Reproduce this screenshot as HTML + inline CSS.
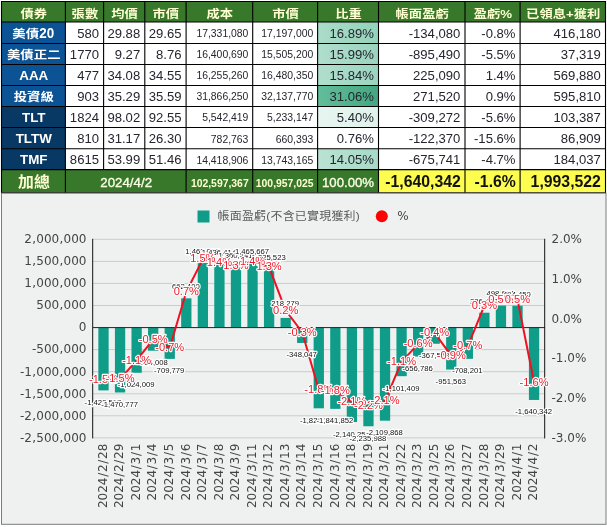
<!DOCTYPE html>
<html lang="zh-Hant"><head><meta charset="utf-8"><title>債券</title>
<style>
html,body{margin:0;padding:0;background:#fff;}
body{width:607px;height:527px;position:relative;overflow:hidden;font-family:"Liberation Sans","Noto Sans CJK TC",sans-serif;}
svg{display:block}
</style></head><body>
<svg width="607" height="527" viewBox="0 0 607 527" style="position:absolute;left:0;top:0">
<defs>
<linearGradient id="g0" x1="0" x2="1" y1="0" y2="0"><stop offset="0" stop-color="#abdcc9"/><stop offset="1" stop-color="#94d2ba"/></linearGradient>
<linearGradient id="g1" x1="0" x2="1" y1="0" y2="0"><stop offset="0" stop-color="#b0decc"/><stop offset="1" stop-color="#9ad4be"/></linearGradient>
<linearGradient id="g2" x1="0" x2="1" y1="0" y2="0"><stop offset="0" stop-color="#b1decd"/><stop offset="1" stop-color="#9bd5bf"/></linearGradient>
<linearGradient id="g3" x1="0" x2="1" y1="0" y2="0"><stop offset="0" stop-color="#62bd9a"/><stop offset="1" stop-color="#44a782"/></linearGradient>
<linearGradient id="g4" x1="0" x2="1" y1="0" y2="0"><stop offset="0" stop-color="#e7f5f0"/><stop offset="1" stop-color="#e0f2eb"/></linearGradient>
<linearGradient id="g5" x1="0" x2="1" y1="0" y2="0"><stop offset="0" stop-color="#ffffff"/><stop offset="1" stop-color="#ffffff"/></linearGradient>
<linearGradient id="g6" x1="0" x2="1" y1="0" y2="0"><stop offset="0" stop-color="#bae2d3"/><stop offset="1" stop-color="#a7dac7"/></linearGradient>
</defs>
<rect x="0" y="0" width="607" height="527" fill="#ffffff"/>
<rect x="1.50" y="1.50" width="604.00" height="20.50" fill="#37782a"/>
<rect x="1.50" y="22.00" width="63.90" height="84.50" fill="#0b5394"/>
<rect x="1.50" y="106.50" width="63.90" height="63.10" fill="#083864"/>
<rect x="1.50" y="169.60" width="377.00" height="23.10" fill="#37782a"/>
<rect x="378.50" y="169.60" width="227.00" height="23.10" fill="#fdfd50"/>
<rect x="317.60" y="22.00" width="60.90" height="21.50" fill="url(#g0)"/>
<rect x="317.60" y="43.50" width="60.90" height="21.00" fill="url(#g1)"/>
<rect x="317.60" y="64.50" width="60.90" height="21.00" fill="url(#g2)"/>
<rect x="317.60" y="85.50" width="60.90" height="21.00" fill="url(#g3)"/>
<rect x="317.60" y="106.50" width="60.90" height="21.00" fill="url(#g4)"/>
<rect x="317.60" y="127.50" width="60.90" height="21.30" fill="url(#g5)"/>
<rect x="317.60" y="148.80" width="60.90" height="20.80" fill="url(#g6)"/>
<line x1="1.50" x2="1.50" y1="1.00" y2="193.20" stroke="#000" stroke-width="1.1"/>
<line x1="65.40" x2="65.40" y1="1.00" y2="193.20" stroke="#000" stroke-width="1.1"/>
<line x1="103.60" x2="103.60" y1="1.00" y2="169.60" stroke="#000" stroke-width="1.1"/>
<line x1="144.80" x2="144.80" y1="1.00" y2="169.60" stroke="#000" stroke-width="1.1"/>
<line x1="186.10" x2="186.10" y1="1.00" y2="193.20" stroke="#000" stroke-width="1.1"/>
<line x1="252.70" x2="252.70" y1="1.00" y2="193.20" stroke="#000" stroke-width="1.1"/>
<line x1="317.60" x2="317.60" y1="1.00" y2="193.20" stroke="#000" stroke-width="1.1"/>
<line x1="378.50" x2="378.50" y1="1.00" y2="193.20" stroke="#000" stroke-width="1.1"/>
<line x1="465.00" x2="465.00" y1="1.00" y2="193.20" stroke="#000" stroke-width="1.1"/>
<line x1="520.10" x2="520.10" y1="1.00" y2="193.20" stroke="#000" stroke-width="1.1"/>
<line x1="605.50" x2="605.50" y1="1.00" y2="193.20" stroke="#000" stroke-width="1.1"/>
<line x1="1.00" x2="606.00" y1="1.50" y2="1.50" stroke="#000" stroke-width="1.1"/>
<line x1="1.00" x2="606.00" y1="22.00" y2="22.00" stroke="#000" stroke-width="1.1"/>
<line x1="1.00" x2="606.00" y1="43.50" y2="43.50" stroke="#000" stroke-width="1.1"/>
<line x1="1.00" x2="606.00" y1="64.50" y2="64.50" stroke="#000" stroke-width="1.1"/>
<line x1="1.00" x2="606.00" y1="85.50" y2="85.50" stroke="#000" stroke-width="1.1"/>
<line x1="1.00" x2="606.00" y1="106.50" y2="106.50" stroke="#000" stroke-width="1.1"/>
<line x1="1.00" x2="606.00" y1="127.50" y2="127.50" stroke="#000" stroke-width="1.1"/>
<line x1="1.00" x2="606.00" y1="148.80" y2="148.80" stroke="#000" stroke-width="1.1"/>
<line x1="1.00" x2="606.00" y1="169.60" y2="169.60" stroke="#000" stroke-width="1.1"/>
<line x1="1.00" x2="606.00" y1="192.70" y2="192.70" stroke="#000" stroke-width="1.1"/>
<text transform="translate(33.85 17.60) scale(1 0.88)" text-anchor="middle" font-family="'Liberation Sans','Noto Sans CJK TC',sans-serif" font-size="13.3" fill="#ffffd2" font-weight="bold">債券</text>
<text transform="translate(84.90 17.60) scale(1 0.88)" text-anchor="middle" font-family="'Liberation Sans','Noto Sans CJK TC',sans-serif" font-size="13.3" fill="#ffffd2" font-weight="bold">張數</text>
<text transform="translate(124.60 17.60) scale(1 0.88)" text-anchor="middle" font-family="'Liberation Sans','Noto Sans CJK TC',sans-serif" font-size="13.3" fill="#ffffd2" font-weight="bold">均價</text>
<text transform="translate(165.85 17.60) scale(1 0.88)" text-anchor="middle" font-family="'Liberation Sans','Noto Sans CJK TC',sans-serif" font-size="13.3" fill="#ffffd2" font-weight="bold">市價</text>
<text transform="translate(219.80 17.60) scale(1 0.88)" text-anchor="middle" font-family="'Liberation Sans','Noto Sans CJK TC',sans-serif" font-size="13.3" fill="#ffffd2" font-weight="bold">成本</text>
<text transform="translate(285.55 17.60) scale(1 0.88)" text-anchor="middle" font-family="'Liberation Sans','Noto Sans CJK TC',sans-serif" font-size="13.3" fill="#ffffd2" font-weight="bold">市價</text>
<text transform="translate(348.45 17.60) scale(1 0.88)" text-anchor="middle" font-family="'Liberation Sans','Noto Sans CJK TC',sans-serif" font-size="13.3" fill="#ffffd2" font-weight="bold">比重</text>
<text transform="translate(422.15 17.60) scale(1 0.88)" text-anchor="middle" font-family="'Liberation Sans','Noto Sans CJK TC',sans-serif" font-size="13.3" fill="#ffffd2" font-weight="bold">帳面盈虧</text>
<text transform="translate(492.95 17.60) scale(1 0.88)" text-anchor="middle" font-family="'Liberation Sans','Noto Sans CJK TC',sans-serif" font-size="13.3" fill="#ffffd2" font-weight="bold">盈虧%</text>
<text transform="translate(563.20 17.60) scale(1 0.88)" text-anchor="middle" font-family="'Liberation Sans','Noto Sans CJK TC',sans-serif" font-size="13.3" fill="#ffffd2" font-weight="bold">已領息+獲利</text>
<text transform="translate(39.05 38.10) scale(1 0.86)" text-anchor="end" font-family="'Liberation Sans','Noto Sans CJK TC',sans-serif" font-size="13.4" fill="#ffffff" font-weight="bold">美債</text>
<text transform="translate(39.25 38.20) scale(0.93 1)" text-anchor="start" font-family="'Liberation Sans','Noto Sans CJK TC',sans-serif" font-size="14.4" fill="#ffffff" font-weight="bold">20</text>
<text x="99.00" y="37.80" text-anchor="end" font-family="'Liberation Sans','Noto Sans CJK TC',sans-serif" font-size="13.1" fill="#25252f" font-weight="normal">580</text>
<text x="140.20" y="37.80" text-anchor="end" font-family="'Liberation Sans','Noto Sans CJK TC',sans-serif" font-size="13.1" fill="#25252f" font-weight="normal">29.88</text>
<text x="181.50" y="37.80" text-anchor="end" font-family="'Liberation Sans','Noto Sans CJK TC',sans-serif" font-size="13.1" fill="#25252f" font-weight="normal">29.65</text>
<text x="373.90" y="37.80" text-anchor="end" font-family="'Liberation Sans','Noto Sans CJK TC',sans-serif" font-size="13.1" fill="#25252f" font-weight="normal">16.89%</text>
<text x="460.40" y="37.80" text-anchor="end" font-family="'Liberation Sans','Noto Sans CJK TC',sans-serif" font-size="13.1" fill="#25252f" font-weight="normal">-134,080</text>
<text x="515.50" y="37.80" text-anchor="end" font-family="'Liberation Sans','Noto Sans CJK TC',sans-serif" font-size="13.1" fill="#25252f" font-weight="normal">-0.8%</text>
<text x="600.90" y="37.80" text-anchor="end" font-family="'Liberation Sans','Noto Sans CJK TC',sans-serif" font-size="13.1" fill="#25252f" font-weight="normal">416,180</text>
<text x="248.40" y="37.40" text-anchor="end" font-family="'Liberation Sans','Noto Sans CJK TC',sans-serif" font-size="10.4" fill="#25252f" font-weight="normal">17,331,080</text>
<text x="313.30" y="37.40" text-anchor="end" font-family="'Liberation Sans','Noto Sans CJK TC',sans-serif" font-size="10.4" fill="#25252f" font-weight="normal">17,197,000</text>
<text transform="translate(33.75 59.10) scale(1 0.86)" text-anchor="middle" font-family="'Liberation Sans','Noto Sans CJK TC',sans-serif" font-size="13.4" fill="#ffffff" font-weight="bold">美債正二</text>
<text x="99.00" y="58.80" text-anchor="end" font-family="'Liberation Sans','Noto Sans CJK TC',sans-serif" font-size="13.1" fill="#25252f" font-weight="normal">1770</text>
<text x="140.20" y="58.80" text-anchor="end" font-family="'Liberation Sans','Noto Sans CJK TC',sans-serif" font-size="13.1" fill="#25252f" font-weight="normal">9.27</text>
<text x="181.50" y="58.80" text-anchor="end" font-family="'Liberation Sans','Noto Sans CJK TC',sans-serif" font-size="13.1" fill="#25252f" font-weight="normal">8.76</text>
<text x="373.90" y="58.80" text-anchor="end" font-family="'Liberation Sans','Noto Sans CJK TC',sans-serif" font-size="13.1" fill="#25252f" font-weight="normal">15.99%</text>
<text x="460.40" y="58.80" text-anchor="end" font-family="'Liberation Sans','Noto Sans CJK TC',sans-serif" font-size="13.1" fill="#25252f" font-weight="normal">-895,490</text>
<text x="515.50" y="58.80" text-anchor="end" font-family="'Liberation Sans','Noto Sans CJK TC',sans-serif" font-size="13.1" fill="#25252f" font-weight="normal">-5.5%</text>
<text x="600.90" y="58.80" text-anchor="end" font-family="'Liberation Sans','Noto Sans CJK TC',sans-serif" font-size="13.1" fill="#25252f" font-weight="normal">37,319</text>
<text x="248.40" y="58.40" text-anchor="end" font-family="'Liberation Sans','Noto Sans CJK TC',sans-serif" font-size="10.4" fill="#25252f" font-weight="normal">16,400,690</text>
<text x="313.30" y="58.40" text-anchor="end" font-family="'Liberation Sans','Noto Sans CJK TC',sans-serif" font-size="10.4" fill="#25252f" font-weight="normal">15,505,200</text>
<text x="33.75" y="79.60" text-anchor="middle" font-family="'Liberation Sans','Noto Sans CJK TC',sans-serif" font-size="13.4" fill="#ffffff" font-weight="bold">AAA</text>
<text x="99.00" y="79.80" text-anchor="end" font-family="'Liberation Sans','Noto Sans CJK TC',sans-serif" font-size="13.1" fill="#25252f" font-weight="normal">477</text>
<text x="140.20" y="79.80" text-anchor="end" font-family="'Liberation Sans','Noto Sans CJK TC',sans-serif" font-size="13.1" fill="#25252f" font-weight="normal">34.08</text>
<text x="181.50" y="79.80" text-anchor="end" font-family="'Liberation Sans','Noto Sans CJK TC',sans-serif" font-size="13.1" fill="#25252f" font-weight="normal">34.55</text>
<text x="373.90" y="79.80" text-anchor="end" font-family="'Liberation Sans','Noto Sans CJK TC',sans-serif" font-size="13.1" fill="#25252f" font-weight="normal">15.84%</text>
<text x="460.40" y="79.80" text-anchor="end" font-family="'Liberation Sans','Noto Sans CJK TC',sans-serif" font-size="13.1" fill="#25252f" font-weight="normal">225,090</text>
<text x="515.50" y="79.80" text-anchor="end" font-family="'Liberation Sans','Noto Sans CJK TC',sans-serif" font-size="13.1" fill="#25252f" font-weight="normal">1.4%</text>
<text x="600.90" y="79.80" text-anchor="end" font-family="'Liberation Sans','Noto Sans CJK TC',sans-serif" font-size="13.1" fill="#25252f" font-weight="normal">569,880</text>
<text x="248.40" y="79.40" text-anchor="end" font-family="'Liberation Sans','Noto Sans CJK TC',sans-serif" font-size="10.4" fill="#25252f" font-weight="normal">16,255,260</text>
<text x="313.30" y="79.40" text-anchor="end" font-family="'Liberation Sans','Noto Sans CJK TC',sans-serif" font-size="10.4" fill="#25252f" font-weight="normal">16,480,350</text>
<text transform="translate(33.75 101.10) scale(1 0.86)" text-anchor="middle" font-family="'Liberation Sans','Noto Sans CJK TC',sans-serif" font-size="13.4" fill="#ffffff" font-weight="bold">投資級</text>
<text x="99.00" y="100.80" text-anchor="end" font-family="'Liberation Sans','Noto Sans CJK TC',sans-serif" font-size="13.1" fill="#25252f" font-weight="normal">903</text>
<text x="140.20" y="100.80" text-anchor="end" font-family="'Liberation Sans','Noto Sans CJK TC',sans-serif" font-size="13.1" fill="#25252f" font-weight="normal">35.29</text>
<text x="181.50" y="100.80" text-anchor="end" font-family="'Liberation Sans','Noto Sans CJK TC',sans-serif" font-size="13.1" fill="#25252f" font-weight="normal">35.59</text>
<text x="373.90" y="100.80" text-anchor="end" font-family="'Liberation Sans','Noto Sans CJK TC',sans-serif" font-size="13.1" fill="#25252f" font-weight="normal">31.06%</text>
<text x="460.40" y="100.80" text-anchor="end" font-family="'Liberation Sans','Noto Sans CJK TC',sans-serif" font-size="13.1" fill="#25252f" font-weight="normal">271,520</text>
<text x="515.50" y="100.80" text-anchor="end" font-family="'Liberation Sans','Noto Sans CJK TC',sans-serif" font-size="13.1" fill="#25252f" font-weight="normal">0.9%</text>
<text x="600.90" y="100.80" text-anchor="end" font-family="'Liberation Sans','Noto Sans CJK TC',sans-serif" font-size="13.1" fill="#25252f" font-weight="normal">595,810</text>
<text x="248.40" y="100.40" text-anchor="end" font-family="'Liberation Sans','Noto Sans CJK TC',sans-serif" font-size="10.4" fill="#25252f" font-weight="normal">31,866,250</text>
<text x="313.30" y="100.40" text-anchor="end" font-family="'Liberation Sans','Noto Sans CJK TC',sans-serif" font-size="10.4" fill="#25252f" font-weight="normal">32,137,770</text>
<text x="33.75" y="121.60" text-anchor="middle" font-family="'Liberation Sans','Noto Sans CJK TC',sans-serif" font-size="13.4" fill="#ffffff" font-weight="bold">TLT</text>
<text x="99.00" y="121.80" text-anchor="end" font-family="'Liberation Sans','Noto Sans CJK TC',sans-serif" font-size="13.1" fill="#25252f" font-weight="normal">1824</text>
<text x="140.20" y="121.80" text-anchor="end" font-family="'Liberation Sans','Noto Sans CJK TC',sans-serif" font-size="13.1" fill="#25252f" font-weight="normal">98.02</text>
<text x="181.50" y="121.80" text-anchor="end" font-family="'Liberation Sans','Noto Sans CJK TC',sans-serif" font-size="13.1" fill="#25252f" font-weight="normal">92.55</text>
<text x="373.90" y="121.80" text-anchor="end" font-family="'Liberation Sans','Noto Sans CJK TC',sans-serif" font-size="13.1" fill="#25252f" font-weight="normal">5.40%</text>
<text x="460.40" y="121.80" text-anchor="end" font-family="'Liberation Sans','Noto Sans CJK TC',sans-serif" font-size="13.1" fill="#25252f" font-weight="normal">-309,272</text>
<text x="515.50" y="121.80" text-anchor="end" font-family="'Liberation Sans','Noto Sans CJK TC',sans-serif" font-size="13.1" fill="#25252f" font-weight="normal">-5.6%</text>
<text x="600.90" y="121.80" text-anchor="end" font-family="'Liberation Sans','Noto Sans CJK TC',sans-serif" font-size="13.1" fill="#25252f" font-weight="normal">103,387</text>
<text x="248.40" y="121.40" text-anchor="end" font-family="'Liberation Sans','Noto Sans CJK TC',sans-serif" font-size="10.4" fill="#25252f" font-weight="normal">5,542,419</text>
<text x="313.30" y="121.40" text-anchor="end" font-family="'Liberation Sans','Noto Sans CJK TC',sans-serif" font-size="10.4" fill="#25252f" font-weight="normal">5,233,147</text>
<text x="33.75" y="142.90" text-anchor="middle" font-family="'Liberation Sans','Noto Sans CJK TC',sans-serif" font-size="13.4" fill="#ffffff" font-weight="bold">TLTW</text>
<text x="99.00" y="143.10" text-anchor="end" font-family="'Liberation Sans','Noto Sans CJK TC',sans-serif" font-size="13.1" fill="#25252f" font-weight="normal">810</text>
<text x="140.20" y="143.10" text-anchor="end" font-family="'Liberation Sans','Noto Sans CJK TC',sans-serif" font-size="13.1" fill="#25252f" font-weight="normal">31.17</text>
<text x="181.50" y="143.10" text-anchor="end" font-family="'Liberation Sans','Noto Sans CJK TC',sans-serif" font-size="13.1" fill="#25252f" font-weight="normal">26.30</text>
<text x="373.90" y="143.10" text-anchor="end" font-family="'Liberation Sans','Noto Sans CJK TC',sans-serif" font-size="13.1" fill="#25252f" font-weight="normal">0.76%</text>
<text x="460.40" y="143.10" text-anchor="end" font-family="'Liberation Sans','Noto Sans CJK TC',sans-serif" font-size="13.1" fill="#25252f" font-weight="normal">-122,370</text>
<text x="515.50" y="143.10" text-anchor="end" font-family="'Liberation Sans','Noto Sans CJK TC',sans-serif" font-size="13.1" fill="#25252f" font-weight="normal">-15.6%</text>
<text x="600.90" y="143.10" text-anchor="end" font-family="'Liberation Sans','Noto Sans CJK TC',sans-serif" font-size="13.1" fill="#25252f" font-weight="normal">86,909</text>
<text x="248.40" y="142.70" text-anchor="end" font-family="'Liberation Sans','Noto Sans CJK TC',sans-serif" font-size="10.4" fill="#25252f" font-weight="normal">782,763</text>
<text x="313.30" y="142.70" text-anchor="end" font-family="'Liberation Sans','Noto Sans CJK TC',sans-serif" font-size="10.4" fill="#25252f" font-weight="normal">660,393</text>
<text x="33.75" y="163.70" text-anchor="middle" font-family="'Liberation Sans','Noto Sans CJK TC',sans-serif" font-size="13.4" fill="#ffffff" font-weight="bold">TMF</text>
<text x="99.00" y="163.90" text-anchor="end" font-family="'Liberation Sans','Noto Sans CJK TC',sans-serif" font-size="13.1" fill="#25252f" font-weight="normal">8615</text>
<text x="140.20" y="163.90" text-anchor="end" font-family="'Liberation Sans','Noto Sans CJK TC',sans-serif" font-size="13.1" fill="#25252f" font-weight="normal">53.99</text>
<text x="181.50" y="163.90" text-anchor="end" font-family="'Liberation Sans','Noto Sans CJK TC',sans-serif" font-size="13.1" fill="#25252f" font-weight="normal">51.46</text>
<text x="373.90" y="163.90" text-anchor="end" font-family="'Liberation Sans','Noto Sans CJK TC',sans-serif" font-size="13.1" fill="#25252f" font-weight="normal">14.05%</text>
<text x="460.40" y="163.90" text-anchor="end" font-family="'Liberation Sans','Noto Sans CJK TC',sans-serif" font-size="13.1" fill="#25252f" font-weight="normal">-675,741</text>
<text x="515.50" y="163.90" text-anchor="end" font-family="'Liberation Sans','Noto Sans CJK TC',sans-serif" font-size="13.1" fill="#25252f" font-weight="normal">-4.7%</text>
<text x="600.90" y="163.90" text-anchor="end" font-family="'Liberation Sans','Noto Sans CJK TC',sans-serif" font-size="13.1" fill="#25252f" font-weight="normal">184,037</text>
<text x="248.40" y="163.50" text-anchor="end" font-family="'Liberation Sans','Noto Sans CJK TC',sans-serif" font-size="10.4" fill="#25252f" font-weight="normal">14,418,906</text>
<text x="313.30" y="163.50" text-anchor="end" font-family="'Liberation Sans','Noto Sans CJK TC',sans-serif" font-size="10.4" fill="#25252f" font-weight="normal">13,743,165</text>
<text transform="translate(33.95 186.70) scale(1 0.9)" text-anchor="middle" font-family="'Liberation Sans','Noto Sans CJK TC',sans-serif" font-size="15.9" fill="#ffffd2" font-weight="bold">加總</text>
<text x="126.15" y="187.30" text-anchor="middle" font-family="'Liberation Sans','Noto Sans CJK TC',sans-serif" font-size="13.3" fill="#fcffe6" font-weight="normal" stroke="#fcffe6" stroke-width="0.35">2024/4/2</text>
<text x="248.70" y="186.70" text-anchor="end" font-family="'Liberation Sans','Noto Sans CJK TC',sans-serif" font-size="10.4" fill="#ffffd2" font-weight="bold">102,597,367</text>
<text x="313.60" y="186.70" text-anchor="end" font-family="'Liberation Sans','Noto Sans CJK TC',sans-serif" font-size="10.4" fill="#ffffd2" font-weight="bold">100,957,025</text>
<text x="374.10" y="187.30" text-anchor="end" font-family="'Liberation Sans','Noto Sans CJK TC',sans-serif" font-size="13.2" fill="#fcffe6" font-weight="normal" stroke="#fcffe6" stroke-width="0.35">100.00%</text>
<text x="460.80" y="187.30" text-anchor="end" font-family="'Liberation Sans','Noto Sans CJK TC',sans-serif" font-size="15.8" fill="#111" font-weight="bold">-1,640,342</text>
<text x="515.90" y="187.30" text-anchor="end" font-family="'Liberation Sans','Noto Sans CJK TC',sans-serif" font-size="15.8" fill="#111" font-weight="bold">-1.6%</text>
<text x="600.90" y="187.30" text-anchor="end" font-family="'Liberation Sans','Noto Sans CJK TC',sans-serif" font-size="15.8" fill="#111" font-weight="bold">1,993,522</text>
<rect x="1.5" y="193.2" width="604.5" height="331.1" fill="#eff1f1"/>
<rect x="1.5" y="193.2" width="604.5" height="331.1" fill="none" stroke="#7c7c7c" stroke-width="1"/>
<line x1="93" x2="545" y1="239.3" y2="239.3" stroke="#cbcbcb" stroke-width="1"/>
<line x1="93" x2="545" y1="261.4" y2="261.4" stroke="#cbcbcb" stroke-width="1"/>
<line x1="93" x2="545" y1="283.4" y2="283.4" stroke="#cbcbcb" stroke-width="1"/>
<line x1="93" x2="545" y1="305.5" y2="305.5" stroke="#cbcbcb" stroke-width="1"/>
<line x1="93" x2="545" y1="349.6" y2="349.6" stroke="#cbcbcb" stroke-width="1"/>
<line x1="93" x2="545" y1="371.7" y2="371.7" stroke="#cbcbcb" stroke-width="1"/>
<line x1="93" x2="545" y1="393.8" y2="393.8" stroke="#cbcbcb" stroke-width="1"/>
<line x1="93" x2="545" y1="415.8" y2="415.8" stroke="#cbcbcb" stroke-width="1"/>
<line x1="93" x2="545" y1="437.9" y2="437.9" stroke="#cbcbcb" stroke-width="1"/>
<rect x="98.35" y="327.57" width="10.30" height="62.82" fill="#0f9d8a"/>
<rect x="114.91" y="327.57" width="10.30" height="64.91" fill="#0f9d8a"/>
<rect x="131.47" y="327.57" width="10.30" height="45.19" fill="#0f9d8a"/>
<rect x="148.03" y="327.57" width="10.30" height="23.13" fill="#0f9d8a"/>
<rect x="164.59" y="327.57" width="10.30" height="31.32" fill="#0f9d8a"/>
<rect x="181.15" y="298.33" width="10.30" height="29.23" fill="#0f9d8a"/>
<rect x="197.71" y="263.00" width="10.30" height="64.57" fill="#0f9d8a"/>
<rect x="214.27" y="264.17" width="10.30" height="63.39" fill="#0f9d8a"/>
<rect x="230.83" y="267.53" width="10.30" height="60.04" fill="#0f9d8a"/>
<rect x="247.39" y="262.88" width="10.30" height="64.68" fill="#0f9d8a"/>
<rect x="263.95" y="269.07" width="10.30" height="58.50" fill="#0f9d8a"/>
<rect x="280.51" y="317.93" width="10.30" height="9.63" fill="#0f9d8a"/>
<rect x="297.07" y="327.57" width="10.30" height="15.36" fill="#0f9d8a"/>
<rect x="313.63" y="327.57" width="10.30" height="80.73" fill="#0f9d8a"/>
<rect x="330.19" y="327.57" width="10.30" height="81.29" fill="#0f9d8a"/>
<rect x="346.75" y="327.57" width="10.30" height="94.46" fill="#0f9d8a"/>
<rect x="363.31" y="327.57" width="10.30" height="98.68" fill="#0f9d8a"/>
<rect x="379.87" y="327.57" width="10.30" height="93.12" fill="#0f9d8a"/>
<rect x="396.43" y="327.57" width="10.30" height="48.61" fill="#0f9d8a"/>
<rect x="412.99" y="327.57" width="10.30" height="28.99" fill="#0f9d8a"/>
<rect x="429.55" y="327.57" width="10.30" height="16.22" fill="#0f9d8a"/>
<rect x="446.11" y="327.57" width="10.30" height="42.00" fill="#0f9d8a"/>
<rect x="462.67" y="327.57" width="10.30" height="31.26" fill="#0f9d8a"/>
<rect x="479.23" y="312.72" width="10.30" height="14.85" fill="#0f9d8a"/>
<rect x="495.79" y="305.56" width="10.30" height="22.01" fill="#0f9d8a"/>
<rect x="512.35" y="305.74" width="10.30" height="21.82" fill="#0f9d8a"/>
<rect x="528.91" y="327.57" width="10.30" height="72.39" fill="#0f9d8a"/>
<line x1="93" x2="545" y1="327.6" y2="327.6" stroke="#222" stroke-width="1"/>
<line x1="92.7" x2="92.7" y1="238.8" y2="438.4" stroke="#111" stroke-width="1"/>
<line x1="544.7" x2="544.7" y1="238.8" y2="438.4" stroke="#111" stroke-width="1"/>
<polyline points="103.50,379.51 120.06,379.11 136.62,360.45 153.18,339.39 169.74,347.74 186.30,291.73 202.86,259.16 219.42,262.73 235.98,265.52 252.54,261.54 269.10,267.10 285.66,310.40 302.22,332.24 318.78,389.84 335.34,390.63 351.90,402.15 368.46,406.12 385.02,400.96 401.58,361.64 418.14,344.16 434.70,333.04 451.26,355.68 467.82,346.15 484.38,305.63 500.94,299.28 517.50,299.67 534.06,382.29" fill="none" stroke="#ee1122" stroke-width="2" stroke-linejoin="round"/>
<g font-family="'DejaVu Sans','Liberation Sans',sans-serif" font-size="12" fill="#444">
<text x="86.5" y="243.1" text-anchor="end">2<tspan dx="0.28">,</tspan><tspan dx="0.28">0</tspan>00<tspan dx="0.28">,</tspan><tspan dx="0.28">0</tspan>00</text>
<text x="86.5" y="265.2" text-anchor="end">1<tspan dx="0.28">,</tspan><tspan dx="0.28">5</tspan>00<tspan dx="0.28">,</tspan><tspan dx="0.28">0</tspan>00</text>
<text x="86.5" y="287.2" text-anchor="end">1<tspan dx="0.28">,</tspan><tspan dx="0.28">0</tspan>00<tspan dx="0.28">,</tspan><tspan dx="0.28">0</tspan>00</text>
<text x="86.5" y="309.3" text-anchor="end">500<tspan dx="0.28">,</tspan><tspan dx="0.28">0</tspan>00</text>
<text x="86.5" y="331.4" text-anchor="end">0</text>
<text x="86.5" y="353.4" text-anchor="end">-500<tspan dx="0.28">,</tspan><tspan dx="0.28">0</tspan>00</text>
<text x="86.5" y="375.5" text-anchor="end">-1<tspan dx="0.28">,</tspan><tspan dx="0.28">0</tspan>00<tspan dx="0.28">,</tspan><tspan dx="0.28">0</tspan>00</text>
<text x="86.5" y="397.6" text-anchor="end">-1<tspan dx="0.28">,</tspan><tspan dx="0.28">5</tspan>00<tspan dx="0.28">,</tspan><tspan dx="0.28">0</tspan>00</text>
<text x="86.5" y="419.6" text-anchor="end">-2<tspan dx="0.28">,</tspan><tspan dx="0.28">0</tspan>00<tspan dx="0.28">,</tspan><tspan dx="0.28">0</tspan>00</text>
<text x="86.5" y="441.7" text-anchor="end">-2<tspan dx="0.28">,</tspan><tspan dx="0.28">5</tspan>00<tspan dx="0.28">,</tspan><tspan dx="0.28">0</tspan>00</text>
<text x="551.5" y="243.1">2.0%</text>
<text x="551.5" y="282.8">1.0%</text>
<text x="551.5" y="322.5">0.0%</text>
<text x="551.5" y="362.3">-1.0%</text>
<text x="551.5" y="402.0">-2.0%</text>
<text x="551.5" y="441.7">-3.0%</text>
<text transform="translate(106.70,443.7) rotate(-90)" text-anchor="end">2024<tspan dx="0.70">/</tspan><tspan dx="0.70">2</tspan><tspan dx="0.70">/</tspan><tspan dx="0.70">2</tspan>8</text>
<text transform="translate(123.26,443.7) rotate(-90)" text-anchor="end">2024<tspan dx="0.70">/</tspan><tspan dx="0.70">2</tspan><tspan dx="0.70">/</tspan><tspan dx="0.70">2</tspan>9</text>
<text transform="translate(139.82,443.7) rotate(-90)" text-anchor="end">2024<tspan dx="0.70">/</tspan><tspan dx="0.70">3</tspan><tspan dx="0.70">/</tspan><tspan dx="0.70">1</tspan></text>
<text transform="translate(156.38,443.7) rotate(-90)" text-anchor="end">2024<tspan dx="0.70">/</tspan><tspan dx="0.70">3</tspan><tspan dx="0.70">/</tspan><tspan dx="0.70">4</tspan></text>
<text transform="translate(172.94,443.7) rotate(-90)" text-anchor="end">2024<tspan dx="0.70">/</tspan><tspan dx="0.70">3</tspan><tspan dx="0.70">/</tspan><tspan dx="0.70">5</tspan></text>
<text transform="translate(189.50,443.7) rotate(-90)" text-anchor="end">2024<tspan dx="0.70">/</tspan><tspan dx="0.70">3</tspan><tspan dx="0.70">/</tspan><tspan dx="0.70">6</tspan></text>
<text transform="translate(206.06,443.7) rotate(-90)" text-anchor="end">2024<tspan dx="0.70">/</tspan><tspan dx="0.70">3</tspan><tspan dx="0.70">/</tspan><tspan dx="0.70">7</tspan></text>
<text transform="translate(222.62,443.7) rotate(-90)" text-anchor="end">2024<tspan dx="0.70">/</tspan><tspan dx="0.70">3</tspan><tspan dx="0.70">/</tspan><tspan dx="0.70">8</tspan></text>
<text transform="translate(239.18,443.7) rotate(-90)" text-anchor="end">2024<tspan dx="0.70">/</tspan><tspan dx="0.70">3</tspan><tspan dx="0.70">/</tspan><tspan dx="0.70">9</tspan></text>
<text transform="translate(255.74,443.7) rotate(-90)" text-anchor="end">2024<tspan dx="0.70">/</tspan><tspan dx="0.70">3</tspan><tspan dx="0.70">/</tspan><tspan dx="0.70">1</tspan>1</text>
<text transform="translate(272.30,443.7) rotate(-90)" text-anchor="end">2024<tspan dx="0.70">/</tspan><tspan dx="0.70">3</tspan><tspan dx="0.70">/</tspan><tspan dx="0.70">1</tspan>2</text>
<text transform="translate(288.86,443.7) rotate(-90)" text-anchor="end">2024<tspan dx="0.70">/</tspan><tspan dx="0.70">3</tspan><tspan dx="0.70">/</tspan><tspan dx="0.70">1</tspan>3</text>
<text transform="translate(305.42,443.7) rotate(-90)" text-anchor="end">2024<tspan dx="0.70">/</tspan><tspan dx="0.70">3</tspan><tspan dx="0.70">/</tspan><tspan dx="0.70">1</tspan>4</text>
<text transform="translate(321.98,443.7) rotate(-90)" text-anchor="end">2024<tspan dx="0.70">/</tspan><tspan dx="0.70">3</tspan><tspan dx="0.70">/</tspan><tspan dx="0.70">1</tspan>5</text>
<text transform="translate(338.54,443.7) rotate(-90)" text-anchor="end">2024<tspan dx="0.70">/</tspan><tspan dx="0.70">3</tspan><tspan dx="0.70">/</tspan><tspan dx="0.70">1</tspan>6</text>
<text transform="translate(355.10,443.7) rotate(-90)" text-anchor="end">2024<tspan dx="0.70">/</tspan><tspan dx="0.70">3</tspan><tspan dx="0.70">/</tspan><tspan dx="0.70">1</tspan>8</text>
<text transform="translate(371.66,443.7) rotate(-90)" text-anchor="end">2024<tspan dx="0.70">/</tspan><tspan dx="0.70">3</tspan><tspan dx="0.70">/</tspan><tspan dx="0.70">1</tspan>9</text>
<text transform="translate(388.22,443.7) rotate(-90)" text-anchor="end">2024<tspan dx="0.70">/</tspan><tspan dx="0.70">3</tspan><tspan dx="0.70">/</tspan><tspan dx="0.70">2</tspan>1</text>
<text transform="translate(404.78,443.7) rotate(-90)" text-anchor="end">2024<tspan dx="0.70">/</tspan><tspan dx="0.70">3</tspan><tspan dx="0.70">/</tspan><tspan dx="0.70">2</tspan>2</text>
<text transform="translate(421.34,443.7) rotate(-90)" text-anchor="end">2024<tspan dx="0.70">/</tspan><tspan dx="0.70">3</tspan><tspan dx="0.70">/</tspan><tspan dx="0.70">2</tspan>3</text>
<text transform="translate(437.90,443.7) rotate(-90)" text-anchor="end">2024<tspan dx="0.70">/</tspan><tspan dx="0.70">3</tspan><tspan dx="0.70">/</tspan><tspan dx="0.70">2</tspan>5</text>
<text transform="translate(454.46,443.7) rotate(-90)" text-anchor="end">2024<tspan dx="0.70">/</tspan><tspan dx="0.70">3</tspan><tspan dx="0.70">/</tspan><tspan dx="0.70">2</tspan>6</text>
<text transform="translate(471.02,443.7) rotate(-90)" text-anchor="end">2024<tspan dx="0.70">/</tspan><tspan dx="0.70">3</tspan><tspan dx="0.70">/</tspan><tspan dx="0.70">2</tspan>7</text>
<text transform="translate(487.58,443.7) rotate(-90)" text-anchor="end">2024<tspan dx="0.70">/</tspan><tspan dx="0.70">3</tspan><tspan dx="0.70">/</tspan><tspan dx="0.70">2</tspan>8</text>
<text transform="translate(504.14,443.7) rotate(-90)" text-anchor="end">2024<tspan dx="0.70">/</tspan><tspan dx="0.70">3</tspan><tspan dx="0.70">/</tspan><tspan dx="0.70">2</tspan>9</text>
<text transform="translate(520.70,443.7) rotate(-90)" text-anchor="end">2024<tspan dx="0.70">/</tspan><tspan dx="0.70">4</tspan><tspan dx="0.70">/</tspan><tspan dx="0.70">1</tspan></text>
<text transform="translate(537.26,443.7) rotate(-90)" text-anchor="end">2024<tspan dx="0.70">/</tspan><tspan dx="0.70">4</tspan><tspan dx="0.70">/</tspan><tspan dx="0.70">2</tspan></text>
</g>
<rect x="197.5" y="210.5" width="12" height="12" fill="#0f9d8a"/>
<text transform="translate(217.5 220.2) scale(1 0.93)" font-family="'Liberation Sans','Noto Sans CJK TC',sans-serif" font-size="12" fill="#5a5a5a" letter-spacing="0.2">帳面盈虧(不含已實現獲利)</text>
<circle cx="381.8" cy="216.2" r="6" fill="#ff0000"/>
<text x="397.3" y="220.3" font-family="'DejaVu Sans','Liberation Sans',sans-serif" font-size="12" fill="#444">%</text>
<g font-family="'Liberation Sans','Noto Sans CJK TC',sans-serif" font-size="7.7" text-anchor="middle" fill="#111" stroke-linejoin="round">
<text x="103.00" y="404.89" stroke="#ffffff" stroke-width="2.4" fill="#ffffff">-1,423,517</text>
<text x="103.00" y="404.89">-1,423,517</text>
<text x="119.56" y="406.98" stroke="#ffffff" stroke-width="2.4" fill="#ffffff">-1,470,777</text>
<text x="119.56" y="406.98">-1,470,777</text>
<text x="136.12" y="387.26" stroke="#ffffff" stroke-width="2.4" fill="#ffffff">-1,024,009</text>
<text x="136.12" y="387.26">-1,024,009</text>
<text x="152.68" y="365.19" stroke="#ffffff" stroke-width="2.4" fill="#ffffff">-524,008</text>
<text x="152.68" y="365.19">-524,008</text>
<text x="169.24" y="373.39" stroke="#ffffff" stroke-width="2.4" fill="#ffffff">-709,779</text>
<text x="169.24" y="373.39">-709,779</text>
<text x="185.80" y="289.23" stroke="#ffffff" stroke-width="2.4" fill="#ffffff">662,400</text>
<text x="185.80" y="289.23">662,400</text>
<text x="202.36" y="253.90" stroke="#ffffff" stroke-width="2.4" fill="#ffffff">1,463,033</text>
<text x="202.36" y="253.90">1,463,033</text>
<text x="218.92" y="255.07" stroke="#ffffff" stroke-width="2.4" fill="#ffffff">1,436,414</text>
<text x="218.92" y="255.07">1,436,414</text>
<text x="235.48" y="258.43" stroke="#ffffff" stroke-width="2.4" fill="#ffffff">1,360,441</text>
<text x="235.48" y="258.43">1,360,441</text>
<text x="252.04" y="253.78" stroke="#ffffff" stroke-width="2.4" fill="#ffffff">1,465,667</text>
<text x="252.04" y="253.78">1,465,667</text>
<text x="268.60" y="259.97" stroke="#ffffff" stroke-width="2.4" fill="#ffffff">1,325,523</text>
<text x="268.60" y="259.97">1,325,523</text>
<text x="285.16" y="306.33" stroke="#ffffff" stroke-width="2.4" fill="#ffffff">218,279</text>
<text x="285.16" y="306.33">218,279</text>
<text x="301.72" y="357.43" stroke="#ffffff" stroke-width="2.4" fill="#ffffff">-348,047</text>
<text x="301.72" y="357.43">-348,047</text>
<text x="318.28" y="422.80" stroke="#ffffff" stroke-width="2.4" fill="#ffffff">-1,829,321</text>
<text x="318.28" y="422.80">-1,829,321</text>
<text x="334.84" y="423.35" stroke="#ffffff" stroke-width="2.4" fill="#ffffff">-1,841,852</text>
<text x="334.84" y="423.35">-1,841,852</text>
<text x="351.40" y="436.52" stroke="#ffffff" stroke-width="2.4" fill="#ffffff">-2,140,251</text>
<text x="351.40" y="436.52">-2,140,251</text>
<text x="367.96" y="440.75" stroke="#ffffff" stroke-width="2.4" fill="#ffffff">-2,235,988</text>
<text x="367.96" y="440.75">-2,235,988</text>
<text x="384.52" y="435.18" stroke="#ffffff" stroke-width="2.4" fill="#ffffff">-2,109,868</text>
<text x="384.52" y="435.18">-2,109,868</text>
<text x="401.08" y="390.68" stroke="#ffffff" stroke-width="2.4" fill="#ffffff">-1,101,409</text>
<text x="401.08" y="390.68">-1,101,409</text>
<text x="417.64" y="371.05" stroke="#ffffff" stroke-width="2.4" fill="#ffffff">-656,786</text>
<text x="417.64" y="371.05">-656,786</text>
<text x="434.20" y="358.29" stroke="#ffffff" stroke-width="2.4" fill="#ffffff">-367,553</text>
<text x="434.20" y="358.29">-367,553</text>
<text x="450.76" y="384.06" stroke="#ffffff" stroke-width="2.4" fill="#ffffff">-951,563</text>
<text x="450.76" y="384.06">-951,563</text>
<text x="467.32" y="373.32" stroke="#ffffff" stroke-width="2.4" fill="#ffffff">-708,201</text>
<text x="467.32" y="373.32">-708,201</text>
<text x="483.88" y="303.62" stroke="#ffffff" stroke-width="2.4" fill="#ffffff">336,402</text>
<text x="483.88" y="303.62">336,402</text>
<text x="500.44" y="296.46" stroke="#ffffff" stroke-width="2.4" fill="#ffffff">498,624</text>
<text x="500.44" y="296.46">498,624</text>
<text x="517.00" y="296.64" stroke="#ffffff" stroke-width="2.4" fill="#ffffff">494,459</text>
<text x="517.00" y="296.64">494,459</text>
<text x="533.56" y="414.46" stroke="#ffffff" stroke-width="2.4" fill="#ffffff">-1,640,342</text>
<text x="533.56" y="414.46">-1,640,342</text>
</g>
<g font-family="'Liberation Sans','Noto Sans CJK TC',sans-serif" font-size="11.1" text-anchor="middle" fill="#ee1a28" stroke-linejoin="round">
<text x="103.50" y="382.81" stroke="#ffffff" stroke-width="2.3" fill="#ffffff">-1.5%</text>
<text x="103.50" y="382.81">-1.5%</text>
<text x="120.06" y="382.41" stroke="#ffffff" stroke-width="2.3" fill="#ffffff">-1.5%</text>
<text x="120.06" y="382.41">-1.5%</text>
<text x="136.62" y="363.75" stroke="#ffffff" stroke-width="2.3" fill="#ffffff">-1.1%</text>
<text x="136.62" y="363.75">-1.1%</text>
<text x="153.18" y="342.69" stroke="#ffffff" stroke-width="2.3" fill="#ffffff">-0.5%</text>
<text x="153.18" y="342.69">-0.5%</text>
<text x="169.74" y="351.04" stroke="#ffffff" stroke-width="2.3" fill="#ffffff">-0.7%</text>
<text x="169.74" y="351.04">-0.7%</text>
<text x="186.30" y="295.03" stroke="#ffffff" stroke-width="2.3" fill="#ffffff">0.7%</text>
<text x="186.30" y="295.03">0.7%</text>
<text x="202.86" y="262.46" stroke="#ffffff" stroke-width="2.3" fill="#ffffff">1.5%</text>
<text x="202.86" y="262.46">1.5%</text>
<text x="219.42" y="266.03" stroke="#ffffff" stroke-width="2.3" fill="#ffffff">1.4%</text>
<text x="219.42" y="266.03">1.4%</text>
<text x="235.98" y="268.82" stroke="#ffffff" stroke-width="2.3" fill="#ffffff">1.3%</text>
<text x="235.98" y="268.82">1.3%</text>
<text x="252.54" y="264.84" stroke="#ffffff" stroke-width="2.3" fill="#ffffff">1.4%</text>
<text x="252.54" y="264.84">1.4%</text>
<text x="269.10" y="270.40" stroke="#ffffff" stroke-width="2.3" fill="#ffffff">1.3%</text>
<text x="269.10" y="270.40">1.3%</text>
<text x="285.66" y="313.70" stroke="#ffffff" stroke-width="2.3" fill="#ffffff">0.2%</text>
<text x="285.66" y="313.70">0.2%</text>
<text x="302.22" y="335.54" stroke="#ffffff" stroke-width="2.3" fill="#ffffff">-0.3%</text>
<text x="302.22" y="335.54">-0.3%</text>
<text x="318.78" y="393.14" stroke="#ffffff" stroke-width="2.3" fill="#ffffff">-1.8%</text>
<text x="318.78" y="393.14">-1.8%</text>
<text x="335.34" y="393.93" stroke="#ffffff" stroke-width="2.3" fill="#ffffff">-1.8%</text>
<text x="335.34" y="393.93">-1.8%</text>
<text x="351.90" y="405.45" stroke="#ffffff" stroke-width="2.3" fill="#ffffff">-2.1%</text>
<text x="351.90" y="405.45">-2.1%</text>
<text x="368.46" y="409.42" stroke="#ffffff" stroke-width="2.3" fill="#ffffff">-2.2%</text>
<text x="368.46" y="409.42">-2.2%</text>
<text x="385.02" y="404.26" stroke="#ffffff" stroke-width="2.3" fill="#ffffff">-2.1%</text>
<text x="385.02" y="404.26">-2.1%</text>
<text x="401.58" y="364.94" stroke="#ffffff" stroke-width="2.3" fill="#ffffff">-1.1%</text>
<text x="401.58" y="364.94">-1.1%</text>
<text x="418.14" y="347.46" stroke="#ffffff" stroke-width="2.3" fill="#ffffff">-0.6%</text>
<text x="418.14" y="347.46">-0.6%</text>
<text x="434.70" y="336.34" stroke="#ffffff" stroke-width="2.3" fill="#ffffff">-0.4%</text>
<text x="434.70" y="336.34">-0.4%</text>
<text x="451.26" y="358.98" stroke="#ffffff" stroke-width="2.3" fill="#ffffff">-0.9%</text>
<text x="451.26" y="358.98">-0.9%</text>
<text x="467.82" y="349.45" stroke="#ffffff" stroke-width="2.3" fill="#ffffff">-0.7%</text>
<text x="467.82" y="349.45">-0.7%</text>
<text x="484.38" y="308.93" stroke="#ffffff" stroke-width="2.3" fill="#ffffff">0.3%</text>
<text x="484.38" y="308.93">0.3%</text>
<text x="500.94" y="302.58" stroke="#ffffff" stroke-width="2.3" fill="#ffffff">0.5%</text>
<text x="500.94" y="302.58">0.5%</text>
<text x="517.50" y="302.97" stroke="#ffffff" stroke-width="2.3" fill="#ffffff">0.5%</text>
<text x="517.50" y="302.97">0.5%</text>
<text x="534.06" y="385.59" stroke="#ffffff" stroke-width="2.3" fill="#ffffff">-1.6%</text>
<text x="534.06" y="385.59">-1.6%</text>
</g>
</svg>
</body></html>
